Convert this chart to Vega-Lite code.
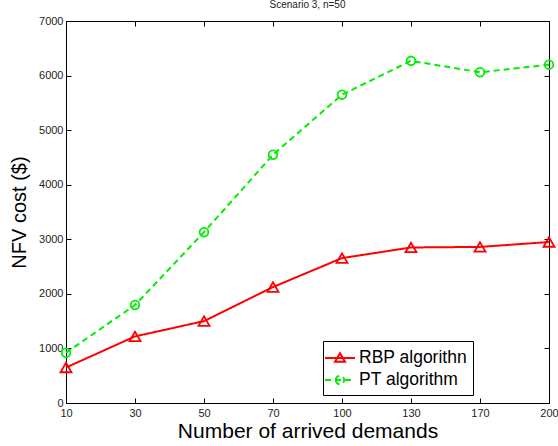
{
  "$schema": "https://vega.github.io/schema/vega-lite/v6.json",
  "autosize": {"type": "none"},
  "padding": {"left": 66, "top": 21, "right": 9, "bottom": 43},
  "width": 483,
  "height": 382,
  "background": "white",
  "title": {"text": "Scenario 3, n=50", "fontSize": 10, "fontWeight": "normal", "font": "Liberation Sans", "color": "#222", "offset": 5},
  "config": {
    "view": {"stroke": "black", "strokeWidth": 1},
    "axis": {"grid": false, "domainColor": "black", "tickColor": "black", "labelColor": "#222", "titleColor": "black", "labelFont": "Liberation Sans", "titleFont": "Liberation Sans", "titleFontWeight": "normal", "labelFontSize": 11, "tickSize": -5, "labelPadding": 8}
  },
  "data": {
    "values": [
      {"n": 10, "cost": 650, "series": "RBP algorithn"},
      {"n": 30, "cost": 1220, "series": "RBP algorithn"},
      {"n": 50, "cost": 1500, "series": "RBP algorithn"},
      {"n": 70, "cost": 2125, "series": "RBP algorithn"},
      {"n": 100, "cost": 2655, "series": "RBP algorithn"},
      {"n": 130, "cost": 2850, "series": "RBP algorithn"},
      {"n": 170, "cost": 2860, "series": "RBP algorithn"},
      {"n": 200, "cost": 2950, "series": "RBP algorithn"},
      {"n": 10, "cost": 920, "series": "PT algorithm"},
      {"n": 30, "cost": 1795, "series": "PT algorithm"},
      {"n": 50, "cost": 3130, "series": "PT algorithm"},
      {"n": 70, "cost": 4550, "series": "PT algorithm"},
      {"n": 100, "cost": 5650, "series": "PT algorithm"},
      {"n": 130, "cost": 6270, "series": "PT algorithm"},
      {"n": 170, "cost": 6060, "series": "PT algorithm"},
      {"n": 200, "cost": 6200, "series": "PT algorithm"}
    ]
  },
  "layer": [
    {
      "mark": {"type": "line", "strokeWidth": 2},
      "encoding": {
        "x": {"field": "n", "type": "ordinal", "scale": {"type": "point", "padding": 0}, "axis": {"title": "Number of arrived demands", "titleFontSize": 21, "labelAngle": 0, "titlePadding": 2, "labelPadding": 9}},
        "y": {"field": "cost", "type": "quantitative", "scale": {"domain": [0, 7000], "nice": false}, "axis": {"title": "NFV cost ($)", "titleFontSize": 20, "values": [0, 1000, 2000, 3000, 4000, 5000, 6000, 7000], "format": "d", "titlePadding": 9, "labelPadding": 8}},
        "color": {"field": "series", "type": "nominal", "scale": {"domain": ["RBP algorithn", "PT algorithm"], "range": ["#ff0000", "#00ee00"]},
          "legend": {"orient": "none", "legendX": 257, "legendY": 320, "title": null, "strokeColor": "black", "fillColor": "white", "padding": 6, "labelFontSize": 17.5, "labelFont": "Liberation Sans", "labelColor": "black", "symbolSize": 400, "symbolStrokeWidth": 2, "symbolFillColor": "transparent", "rowPadding": 2, "labelOffset": 8,
            "encode": {"symbols": {"update": {"shape": {"signal": "datum.value == 'RBP algorithn' ? 'M-1.5,0H1.5M-0.5,0.38L0,-0.48L0.5,0.38Z' : 'M-1.5,0H1.5M-0.42,0A0.42,0.42 0 1,0 0.42,0A0.42,0.42 0 1,0 -0.42,0Z'"}, "fill": {"value": "white"}, "fillOpacity": {"value": 0}}}}}},
        "strokeDash": {"field": "series", "type": "nominal", "scale": {"domain": ["RBP algorithn", "PT algorithm"], "range": [[1, 0], [6, 4]]}, "legend": null}
      }
    },
    {
      "transform": [{"filter": "datum.series == 'RBP algorithn'"}],
      "mark": {"type": "point", "filled": false, "strokeWidth": 1.8, "opacity": 1, "shape": "triangle-up", "size": 120, "color": "#ff0000"},
      "encoding": {
        "x": {"field": "n", "type": "ordinal", "scale": {"type": "point", "padding": 0}, "axis": {"orient": "top", "labels": false, "title": null, "domain": false}},
        "y": {"field": "cost", "type": "quantitative", "axis": {"orient": "right", "labels": false, "title": null, "domain": false, "values": [0, 1000, 2000, 3000, 4000, 5000, 6000, 7000]}}
      }
    },
    {
      "transform": [{"filter": "datum.series == 'PT algorithm'"}],
      "mark": {"type": "point", "filled": false, "strokeWidth": 1.8, "opacity": 1, "shape": "circle", "size": 75, "color": "#00ee00"},
      "encoding": {
        "x": {"field": "n", "type": "ordinal", "axis": null},
        "y": {"field": "cost", "type": "quantitative", "axis": null}
      }
    }
  ],
  "resolve": {"axis": {"x": "independent", "y": "independent"}}
}
